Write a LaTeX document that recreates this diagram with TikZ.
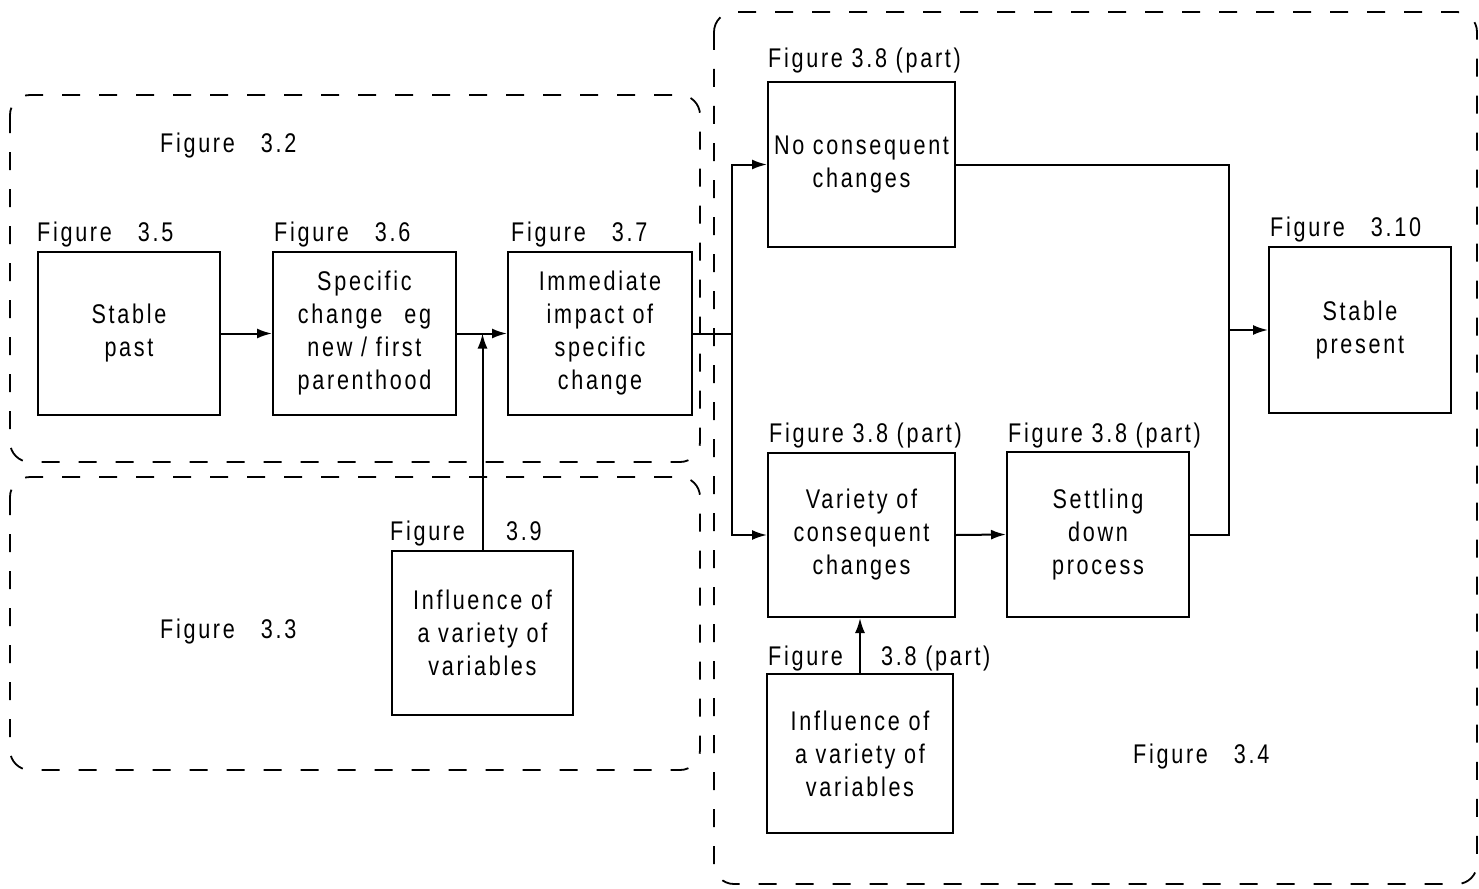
\documentclass[tikz,border=0pt]{standalone}
\usepackage{fontspec}
\setmainfont[FakeStretch=0.8,LetterSpace=10]{Liberation Sans}
\usetikzlibrary{arrows.meta}
\newcommand{\gap}{\hspace{26pt}}
\begin{document}
\begin{tikzpicture}[x=1pt,y=-1pt,
  txt/.style={font=\fontsize{27}{33}\selectfont},
  stagebox/.style={draw, line width=2pt, inner sep=0pt, align=center, txt},
  figlabel/.style={anchor=base west, inner sep=0pt, txt},
  group/.style={draw, line width=1.8pt, dash pattern=on 18pt off 19pt, rounded corners=20pt},
  link/.style={line width=2pt},
  arr/.style={link, -{Latex[length=15pt,width=10pt]}}]
\useasboundingbox (0,0) rectangle (1479,888);

% dashed groupings
\draw[group] (10,95) rectangle (700,462);
\draw[group] (10,477) rectangle (700,770);
\draw[group] (714,12) rectangle (1477,884);

% stages
\node[stagebox, minimum width=182pt, minimum height=163pt] (sp) at (129,333.5) {Stable\\past};
\node[stagebox, minimum width=183pt, minimum height=163pt] (sc) at (364.5,333.5) {Specific\\change\hspace{22pt}eg\\new / first\\parenthood};
\node[stagebox, minimum width=184pt, minimum height=163pt] (ii) at (600,333.5) {Immediate\\impact of\\specific\\change};
\node[stagebox, minimum width=187pt, minimum height=165pt] (nc) at (861.5,164.5) {No consequent\\changes};
\node[stagebox, minimum width=182pt, minimum height=166pt] (spres) at (1360,330) {Stable\\present};
\node[stagebox, minimum width=187pt, minimum height=164pt] (vc) at (861.5,535) {Variety of\\consequent\\changes};
\node[stagebox, minimum width=182pt, minimum height=165pt] (sd) at (1098,534.5) {Settling\\down\\process};
\node[stagebox, minimum width=181pt, minimum height=164pt] (inf39) at (482.5,633) {Influence of\\a variety of\\variables};
\node[stagebox, minimum width=186pt, minimum height=159pt] (inf38) at (860,753.5) {Influence of\\a variety of\\variables};

% figure references
\node[figlabel] (l32) at (160,152) {Figure\gap3.2};
\node[figlabel] (l35) at (37,241) {Figure\gap3.5};
\node[figlabel] (l36) at (274,241) {Figure\gap3.6};
\node[figlabel] (l37) at (511,241) {Figure\gap3.7};
\node[figlabel] (l38a) at (768,68) {Figure 3.8 (part)};
\node[figlabel] (l310) at (1270,236) {Figure\gap3.10};
\node[figlabel] (l38b) at (769,442) {Figure 3.8 (part)};
\node[figlabel] (l38c) at (1008,442) {Figure 3.8 (part)};
\node[figlabel] (l39a) at (390,540) {Figure};
\node[figlabel] (l39b) at (506,540) {3.9};
\node[figlabel] (l33) at (160,638) {Figure\gap3.3};
\node[figlabel] (l38d) at (768,665) {Figure};
\node[figlabel] (l38e) at (881,665) {3.8 (part)};
\node[figlabel] (l34) at (1133,763) {Figure\gap3.4};

% connectors
\coordinate (split) at (732,333.5);
\coordinate (merge) at (1229,330);
\draw[arr] (sp.east) -- (sc.west);
\draw[arr] (sc.east) -- (ii.west);
\draw[arr] (inf39.north) -- (inf39.north |- sc.east);
\draw[link] (ii.east) -- (split);
\draw[arr] (split) |- (nc.west);
\draw[arr] (split) |- (vc.west);
\draw[arr] (vc.east) -- (sd.west);
\draw[arr] (inf38.north) -- (inf38.north |- vc.south);
\draw[link] (nc.east) -| (merge);
\draw[link] (sd.east) -| (merge);
\draw[arr] (merge) -- (spres.west);
\end{tikzpicture}
\end{document}
